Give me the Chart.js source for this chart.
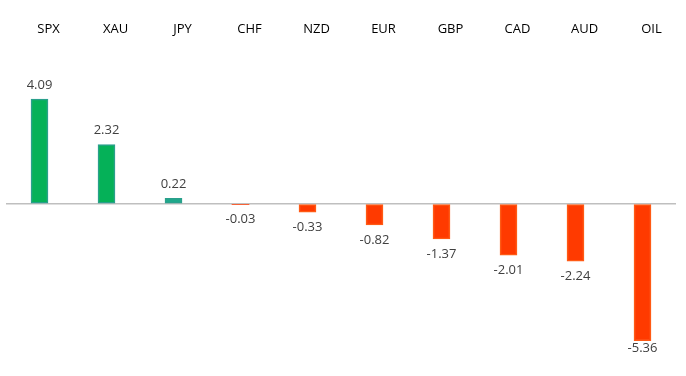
<!DOCTYPE html>
<html>
<head>
<meta charset="utf-8">
<script src="https://cdn.jsdelivr.net/npm/chart.js@4/dist/chart.umd.min.js"></script>
<style>
  html, body { margin: 0; padding: 0; background: #fff; }
  #wrap { width: 686px; height: 376px; position: relative; }
</style>
</head>
<body>
<div id="wrap"><canvas id="c"></canvas></div>
<script>
const categories = ['SPX', 'XAU', 'JPY', 'CHF', 'NZD', 'EUR', 'GBP', 'CAD', 'AUD', 'OIL'];
const values = [4.09, 2.32, 0.22, -0.03, -0.33, -0.82, -1.37, -2.01, -2.24, -5.36];
const yMin = -5.36;
const yMax = 6.38;

const fillColors = values.map(v => v >= 0 ? (v < 0.5 ? '#1fa88a' : '#05b158') : '#ff3a00');
const edgeColors = values.map(v => v >= 0 ? '#2aa08c' : '#ff5a14');
const edgeWidths = values.map(v => Math.abs(v) < 0.1 ? 0 : 1.5);

const valueLabelPlugin = {
  id: 'valueLabels',
  afterDatasetsDraw(chart) {
    const ctx = chart.ctx;
    const meta = chart.getDatasetMeta(0);
    const area = chart.chartArea;
    ctx.save();
    ctx.font = '13px "Open Sans", sans-serif';
    ctx.fillStyle = '#404040';
    ctx.textAlign = 'center';
    ctx.textBaseline = 'middle';
    meta.data.forEach((bar, i) => {
      const v = values[i];
      let y;
      if (v >= 0) {
        y = bar.y - 14;
      } else {
        y = Math.min(Math.max(bar.y, bar.base) + 15, area.bottom + 7);
      }
      ctx.fillText(v.toFixed(2), bar.x, y);
    });
    ctx.restore();
  }
};

new Chart(document.getElementById('c'), {
  type: 'bar',
  data: {
    labels: categories,
    datasets: [{
      data: values,
      backgroundColor: fillColors,
      borderColor: edgeColors,
      borderWidth: edgeWidths,
      borderSkipped: false,
      barThickness: 17
    }]
  },
  options: {
    responsive: true,
    maintainAspectRatio: false,
    animation: false,
    layout: { padding: { left: 6, right: 10, top: 17, bottom: 35 } },
    plugins: {
      legend: { display: false },
      tooltip: { enabled: false }
    },
    scales: {
      x: {
        type: 'category',
        position: 'top',
        offset: true,
        grid: { display: false, drawTicks: false },
        border: { display: false },
        ticks: {
          color: '#000000',
          font: { family: '"Open Sans", sans-serif', size: 13 },
          padding: 4,
          labelOffset: 9,
          maxRotation: 0,
          autoSkip: false
        }
      },
      y: {
        min: yMin,
        max: yMax,
        ticks: { display: false, stepSize: 1 },
        border: { display: false },
        grid: {
          drawTicks: false,
          color: c => (c.tick && c.tick.value === 0) ? '#bfbfbf' : 'rgba(0,0,0,0)',
          lineWidth: c => (c.tick && c.tick.value === 0) ? 1.6 : 0
        },
        afterFit: s => { s.width = 0; }
      }
    }
  },
  plugins: [valueLabelPlugin]
});
</script>
</body>
</html>
